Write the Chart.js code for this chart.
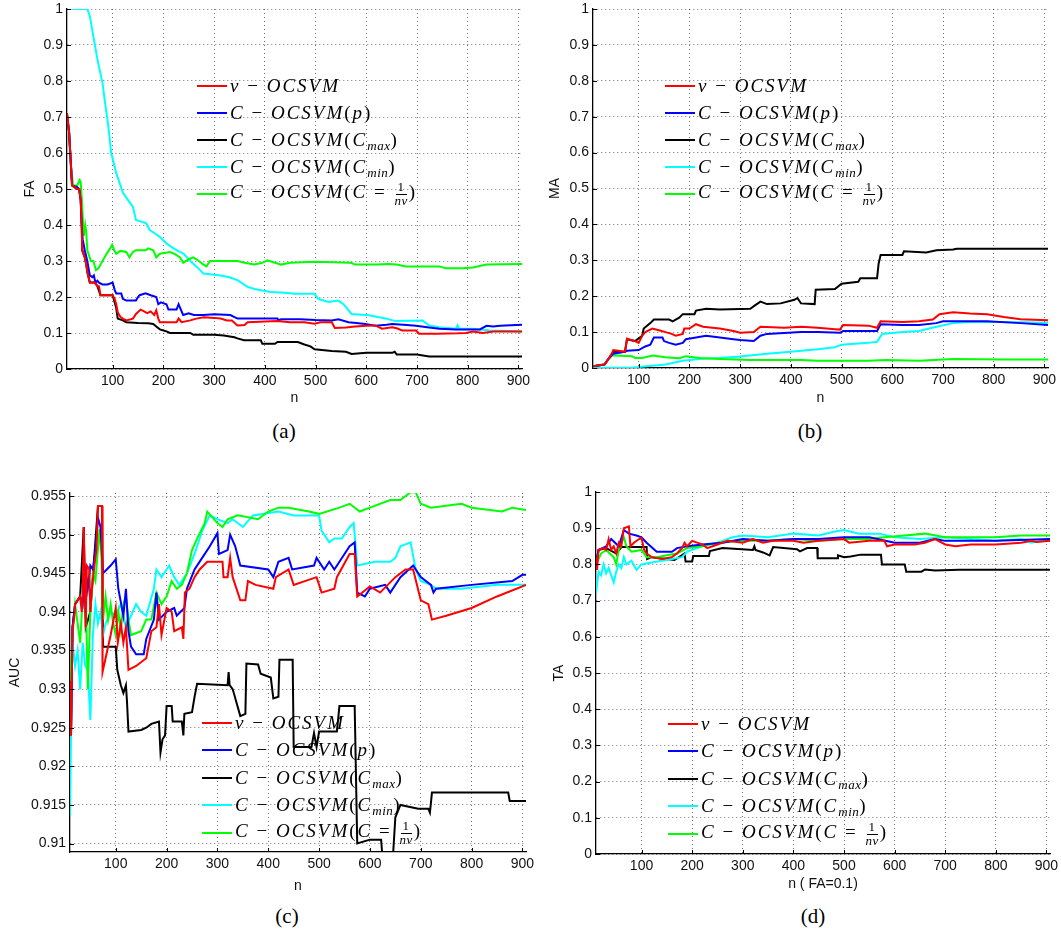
<!DOCTYPE html>
<html>
<head>
<meta charset="utf-8">
<script src="https://cdn.jsdelivr.net/npm/chart.js@4.4.0/dist/chart.umd.min.js"></script>
<style>
body { margin: 0; background: #fff; width: 1061px; height: 931px; position: relative; overflow: hidden; }
canvas { position: absolute; }
.leg { position: absolute; font-family: "Liberation Serif", serif; font-size: 19px; color: #000; }
.row { display: flex; align-items: center; white-space: nowrap; }
.sw { display: inline-block; width: 30px; height: 2px; margin-right: 3px; }
.m { font-style: italic; letter-spacing: 2px; }
.m .up { font-style: normal; }
.m sub { font-size: 13px; letter-spacing: 0.5px; vertical-align: -4px; line-height: 0; }
.frac { display: inline-flex; flex-direction: column; align-items: center; vertical-align: middle; font-size: 13px; line-height: 12px; margin: 0 1px; letter-spacing: 0.5px; }
.frac .num { font-style: normal; border-bottom: 1px solid #000; padding: 0 2px 1px 2px; }
.cap { position: absolute; font-family: "Liberation Serif", serif; font-size: 21px; transform: translate(-50%, -50%); }
</style>
</head>
<body>
<canvas id="chartFA" width="545" height="410" style="left:0;top:0"></canvas>
<canvas id="chartMA" width="531" height="410" style="left:530px;top:0"></canvas>
<canvas id="chartAUC" width="545" height="440" style="left:0;top:460px"></canvas>
<canvas id="chartTA" width="531" height="440" style="left:530px;top:460px"></canvas>
<div class="leg" id="legFA" style="left:197px;top:72px"></div>
<div class="leg" id="legMA" style="left:665px;top:72px"></div>
<div class="leg" id="legAUC" style="left:202px;top:709px"></div>
<div class="leg" id="legTA" style="left:668px;top:710px"></div>
<div class="cap" style="left:284px;top:431px">(a)</div>
<div class="cap" style="left:810px;top:431px">(b)</div>
<div class="cap" style="left:287px;top:916px">(c)</div>
<div class="cap" style="left:813px;top:916px">(d)</div>
<script>
// tick values
const nTicks = [100, 200, 300, 400, 500, 600, 700, 800, 900]
const rateTicks = [0, 0.1, 0.2, 0.3, 0.4, 0.5, 0.6, 0.7, 0.8, 0.9, 1]
const aucTicks = [0.91, 0.915, 0.92, 0.925, 0.93, 0.935, 0.94, 0.945, 0.95, 0.955]

// legend entries (same for all four panels)
const seriesColors = ["#ff0000", "#0000ff", "#000000", "#00ffff", "#00ff00"]
const seriesNames = [
  'ν<span class="up"> − </span>OCSVM',
  'C<span class="up"> − </span>OCSVM<span class="up">(</span>p<span class="up">)</span>',
  'C<span class="up"> − </span>OCSVM<span class="up">(</span>C<sub>max</sub><span class="up">)</span>',
  'C<span class="up"> − </span>OCSVM<span class="up">(</span>C<sub>min</sub><span class="up">)</span>',
  'C<span class="up"> − </span>OCSVM<span class="up">(</span>C<span class="up"> = </span><span class="frac"><span class="num">1</span><span>nν</span></span><span class="up">)</span>'
]

// (a) FA vs n
const faNu = [[10,0.71],[14,0.66],[18,0.56],[20,0.51],[30,0.50],[34,0.50],[37,0.47],[39,0.40],[40,0.33],[45,0.31],[48,0.29],[50,0.27],[55,0.24],[65,0.24],[70,0.23],[73,0.23],[76,0.205],[100,0.205],[104,0.195],[107,0.18],[110,0.158],[115,0.145],[120,0.14],[127,0.135],[140,0.14],[146,0.153],[155,0.165],[162,0.16],[168,0.155],[175,0.16],[182,0.15],[186,0.163],[190,0.14],[193,0.13],[226,0.13],[230,0.14],[236,0.13],[253,0.135],[265,0.14],[280,0.144],[300,0.142],[313,0.14],[325,0.135],[335,0.135],[346,0.121],[360,0.122],[366,0.13],[400,0.132],[425,0.133],[450,0.13],[478,0.13],[498,0.126],[510,0.13],[532,0.13],[538,0.114],[560,0.115],[578,0.118],[600,0.12],[618,0.121],[631,0.112],[651,0.116],[660,0.113],[671,0.107],[698,0.107],[704,0.098],[740,0.098],[780,0.099],[797,0.1],[810,0.104],[830,0.1],[850,0.104],[907,0.104]]
const faP = [[10,0.70],[14,0.66],[18,0.56],[20,0.51],[30,0.505],[34,0.50],[37,0.47],[39,0.40],[41,0.36],[45,0.33],[50,0.30],[55,0.26],[60,0.255],[63,0.26],[66,0.24],[70,0.245],[73,0.24],[80,0.235],[90,0.235],[100,0.24],[104,0.22],[107,0.21],[117,0.21],[120,0.195],[127,0.19],[146,0.19],[150,0.2],[153,0.205],[165,0.21],[175,0.205],[186,0.2],[190,0.18],[195,0.185],[206,0.18],[210,0.165],[226,0.165],[230,0.18],[233,0.17],[239,0.15],[250,0.155],[260,0.15],[279,0.15],[300,0.152],[332,0.15],[346,0.14],[380,0.14],[425,0.14],[427,0.135],[432,0.138],[470,0.138],[500,0.136],[532,0.135],[545,0.138],[565,0.13],[580,0.128],[598,0.125],[618,0.12],[640,0.123],[651,0.125],[680,0.122],[698,0.12],[724,0.115],[744,0.112],[777,0.11],[824,0.11],[837,0.12],[850,0.118],[864,0.12],[907,0.123]]
const faCmax = [[10,0.71],[14,0.66],[18,0.56],[20,0.51],[30,0.50],[34,0.50],[37,0.47],[39,0.40],[40,0.33],[45,0.31],[48,0.29],[50,0.27],[55,0.24],[65,0.24],[70,0.23],[76,0.205],[100,0.205],[104,0.185],[107,0.17],[110,0.14],[120,0.135],[127,0.13],[150,0.128],[170,0.127],[180,0.125],[186,0.118],[193,0.11],[205,0.105],[213,0.1],[253,0.1],[259,0.095],[300,0.095],[319,0.093],[340,0.088],[346,0.085],[359,0.08],[392,0.08],[395,0.07],[420,0.07],[425,0.075],[465,0.075],[478,0.068],[490,0.063],[498,0.055],[532,0.05],[560,0.048],[571,0.042],[600,0.045],[651,0.045],[656,0.048],[660,0.04],[700,0.04],[724,0.035],[907,0.035]]
const faCmin = [[10,1],[50,1],[55,0.98],[60,0.94],[65,0.9],[70,0.86],[73,0.84],[80,0.795],[85,0.74],[90,0.69],[93,0.656],[97,0.6],[100,0.585],[107,0.544],[113,0.52],[120,0.49],[130,0.47],[140,0.45],[146,0.414],[155,0.41],[166,0.405],[173,0.386],[185,0.375],[193,0.367],[206,0.349],[215,0.34],[226,0.33],[240,0.32],[253,0.30],[265,0.285],[279,0.265],[313,0.26],[330,0.255],[346,0.247],[366,0.228],[380,0.222],[392,0.219],[412,0.214],[440,0.212],[459,0.209],[498,0.209],[505,0.195],[525,0.186],[545,0.19],[555,0.18],[571,0.153],[605,0.149],[638,0.14],[658,0.133],[711,0.135],[724,0.121],[744,0.116],[777,0.112],[780,0.121],[783,0.112],[810,0.112],[844,0.107],[870,0.106],[907,0.104]]
const faInv = [[10,0.70],[14,0.66],[18,0.56],[22,0.51],[30,0.51],[35,0.525],[37,0.52],[40,0.45],[43,0.37],[46,0.40],[48,0.38],[50,0.33],[57,0.30],[62,0.30],[67,0.275],[72,0.28],[80,0.30],[88,0.32],[93,0.33],[99,0.345],[103,0.33],[107,0.32],[115,0.328],[127,0.325],[133,0.31],[140,0.325],[146,0.33],[165,0.33],[170,0.335],[180,0.33],[186,0.31],[193,0.32],[213,0.325],[222,0.32],[233,0.31],[239,0.295],[250,0.305],[259,0.31],[270,0.3],[279,0.29],[285,0.285],[292,0.3],[346,0.3],[360,0.295],[379,0.29],[395,0.295],[405,0.302],[420,0.295],[432,0.29],[450,0.295],[500,0.298],[570,0.295],[578,0.29],[620,0.29],[644,0.292],[660,0.29],[678,0.285],[744,0.285],[757,0.28],[790,0.28],[810,0.282],[837,0.29],[907,0.292]]

// (b) MA vs n
const maNu = [[10,0.005],[20,0.007],[33,0.01],[40,0.025],[47,0.04],[50,0.05],[60,0.048],[73,0.045],[77,0.082],[85,0.078],[93,0.075],[100,0.07],[107,0.09],[113,0.1],[120,0.105],[127,0.11],[140,0.105],[153,0.1],[165,0.095],[173,0.09],[187,0.095],[190,0.11],[200,0.11],[213,0.122],[227,0.115],[260,0.11],[287,0.103],[300,0.098],[327,0.1],[340,0.115],[387,0.112],[420,0.115],[453,0.112],[487,0.108],[497,0.107],[503,0.12],[553,0.118],[570,0.112],[577,0.13],[620,0.128],[653,0.13],[680,0.135],[693,0.15],[720,0.155],[753,0.152],[787,0.15],[820,0.142],[853,0.136],[907,0.133]]
const maP = [[10,0.005],[20,0.007],[33,0.01],[40,0.025],[50,0.04],[73,0.045],[77,0.048],[100,0.05],[113,0.06],[123,0.065],[130,0.085],[147,0.085],[150,0.075],[160,0.07],[173,0.065],[187,0.07],[193,0.08],[213,0.085],[233,0.09],[260,0.085],[287,0.08],[300,0.078],[327,0.075],[340,0.09],[353,0.095],[420,0.1],[453,0.1],[497,0.098],[503,0.103],[570,0.103],[577,0.122],[620,0.12],[653,0.12],[687,0.125],[700,0.13],[787,0.13],[853,0.125],[907,0.12]]
const maCmax = [[10,0.005],[20,0.007],[33,0.01],[43,0.03],[50,0.045],[73,0.045],[77,0.08],[93,0.075],[107,0.09],[110,0.11],[123,0.125],[130,0.135],[160,0.135],[167,0.13],[180,0.14],[187,0.15],[210,0.15],[213,0.16],[233,0.165],[260,0.163],[320,0.165],[330,0.175],[340,0.185],[353,0.178],[380,0.18],[407,0.19],[413,0.195],[420,0.18],[447,0.178],[449,0.218],[487,0.22],[500,0.235],[533,0.24],[537,0.25],[570,0.25],[573,0.29],[577,0.315],[620,0.315],[623,0.325],[667,0.322],[687,0.328],[720,0.33],[727,0.332],[907,0.332]]
const maCmin = [[10,0.001],[87,0.001],[100,0.003],[153,0.01],[187,0.02],[220,0.025],[260,0.028],[300,0.032],[353,0.04],[400,0.045],[453,0.052],[487,0.058],[500,0.065],[553,0.07],[570,0.073],[580,0.095],[620,0.1],[653,0.103],[687,0.115],[720,0.125],[753,0.128],[820,0.128],[907,0.126]]
const maInv = [[10,0.005],[20,0.007],[33,0.01],[47,0.035],[53,0.035],[87,0.033],[93,0.028],[107,0.028],[127,0.035],[153,0.03],[180,0.027],[193,0.033],[220,0.028],[260,0.025],[320,0.022],[420,0.022],[453,0.02],[553,0.02],[587,0.022],[653,0.02],[720,0.025],[820,0.024],[907,0.024]]

// (c) AUC vs n
const aucNu = [[10,0.931],[12,0.924],[15,0.938],[18,0.939],[20,0.941],[25,0.9415],[30,0.942],[33,0.94],[35,0.942],[37,0.951],[39,0.944],[41,0.938],[43,0.946],[48,0.9455],[50,0.94],[53,0.943],[58,0.946],[62,0.948],[65,0.9537],[73,0.9537],[74,0.9322],[80,0.934],[90,0.937],[100,0.9405],[104,0.936],[110,0.9385],[115,0.936],[120,0.938],[125,0.9325],[140,0.933],[160,0.934],[170,0.9375],[180,0.938],[185,0.941],[190,0.937],[200,0.9405],[210,0.940],[215,0.9375],[230,0.938],[233,0.9365],[236,0.9425],[245,0.943],[255,0.9445],[265,0.9455],[280,0.9465],[310,0.9465],[312,0.9445],[320,0.9445],[325,0.947],[330,0.9445],[345,0.9415],[355,0.9415],[360,0.944],[375,0.9435],[410,0.943],[415,0.9445],[440,0.9455],[450,0.9435],[495,0.9445],[505,0.9425],[530,0.943],[535,0.9445],[560,0.9475],[570,0.9475],[575,0.942],[600,0.9433],[620,0.9425],[650,0.9445],[670,0.9455],[685,0.9455],[700,0.9415],[715,0.941],[722,0.939],[750,0.9395],[800,0.9405],[850,0.942],[907,0.9435]]
const aucP = [[10,0.931],[12,0.924],[15,0.938],[20,0.941],[30,0.942],[35,0.941],[40,0.946],[45,0.943],[50,0.946],[55,0.9455],[60,0.948],[65,0.9522],[70,0.951],[75,0.945],[90,0.946],[100,0.9468],[105,0.943],[115,0.9395],[120,0.943],[125,0.9375],[130,0.9355],[140,0.9345],[155,0.9345],[160,0.9365],[175,0.939],[180,0.9425],[185,0.939],[200,0.940],[215,0.9405],[220,0.9395],[235,0.9405],[240,0.943],[255,0.9455],[270,0.947],[285,0.9485],[300,0.9502],[303,0.9475],[320,0.948],[325,0.95],[335,0.9485],[345,0.946],[400,0.9455],[410,0.9445],[420,0.9465],[440,0.947],[447,0.9455],[490,0.946],[495,0.947],[510,0.9455],[520,0.9465],[530,0.9455],[540,0.9465],[560,0.9485],[570,0.949],[575,0.9425],[590,0.942],[600,0.943],[630,0.9435],[640,0.9425],[660,0.9445],[685,0.946],[700,0.9445],[720,0.9435],[725,0.9425],[730,0.943],[800,0.9435],[880,0.944],[900,0.9448],[907,0.9448]]
const aucCmax = [[10,0.931],[12,0.924],[15,0.938],[20,0.941],[30,0.942],[37,0.951],[41,0.938],[50,0.94],[65,0.9537],[73,0.9537],[75,0.9355],[100,0.9355],[103,0.9325],[110,0.9305],[115,0.9295],[120,0.9305],[122,0.9285],[125,0.9245],[150,0.9247],[160,0.925],[170,0.9255],[185,0.9258],[188,0.9218],[192,0.9235],[197,0.924],[200,0.9278],[210,0.9278],[212,0.9258],[230,0.9258],[233,0.924],[235,0.9268],[250,0.927],[255,0.929],[260,0.9307],[320,0.9305],[322,0.9322],[324,0.9305],[330,0.93],[345,0.9265],[355,0.9268],[357,0.9333],[380,0.9332],[385,0.932],[405,0.9315],[410,0.9288],[420,0.929],[422,0.9338],[448,0.9338],[450,0.9225],[485,0.9225],[490,0.9243],[495,0.9225],[500,0.9245],[535,0.9245],[540,0.9278],[570,0.9278],[575,0.91],[600,0.9105],[622,0.9105],[625,0.908],[645,0.908],[650,0.9134],[660,0.915],[695,0.9145],[715,0.9145],[718,0.914],[722,0.9166],[872,0.9166],[875,0.9155],[907,0.9155]]
const aucCmin = [[10,0.9135],[13,0.93],[15,0.936],[20,0.933],[25,0.935],[30,0.930],[35,0.936],[40,0.933],[45,0.9325],[50,0.926],[55,0.937],[60,0.941],[65,0.9385],[70,0.94],[75,0.937],[80,0.9385],[90,0.940],[100,0.9395],[110,0.941],[120,0.938],[130,0.9395],[140,0.941],[150,0.940],[160,0.9395],[175,0.943],[180,0.9455],[190,0.9445],[200,0.9455],[205,0.946],[215,0.9445],[225,0.9435],[240,0.945],[255,0.9475],[270,0.9505],[285,0.9525],[300,0.952],[320,0.9515],[330,0.952],[350,0.951],[370,0.9525],[420,0.953],[450,0.9525],[500,0.9525],[505,0.9505],[520,0.949],[530,0.9495],[545,0.9495],[560,0.951],[568,0.9515],[575,0.946],[610,0.9465],[640,0.9465],[650,0.947],[660,0.9485],[680,0.949],[690,0.9455],[700,0.944],[720,0.9435],[730,0.943],[780,0.943],[850,0.9435],[907,0.9435]]
const aucInv = [[10,0.931],[15,0.937],[20,0.941],[30,0.936],[35,0.942],[40,0.945],[45,0.93],[50,0.94],[55,0.945],[60,0.944],[68,0.9507],[72,0.947],[75,0.939],[80,0.942],[85,0.939],[90,0.941],[95,0.9385],[100,0.937],[105,0.940],[110,0.9375],[115,0.941],[120,0.942],[125,0.939],[130,0.937],[150,0.9375],[160,0.939],[170,0.939],[180,0.9425],[190,0.941],[200,0.942],[210,0.944],[220,0.943],[230,0.9435],[240,0.945],[250,0.948],[260,0.9495],[275,0.9515],[280,0.953],[300,0.9515],[310,0.951],[320,0.952],[340,0.9525],[380,0.952],[400,0.953],[420,0.9535],[440,0.9535],[480,0.953],[500,0.9527],[540,0.9535],[560,0.954],[580,0.953],[600,0.9535],[640,0.9545],[660,0.9545],[680,0.9555],[690,0.9555],[700,0.954],[720,0.9535],[780,0.954],[800,0.9535],[860,0.953],[880,0.9535],[907,0.9532]]

// (d) TA vs n at FA=0.1
const taNu = [[10,0.82],[12,0.785],[15,0.84],[25,0.845],[30,0.84],[35,0.87],[40,0.84],[45,0.85],[50,0.83],[55,0.86],[60,0.85],[65,0.9],[75,0.905],[78,0.85],[85,0.86],[95,0.87],[100,0.873],[105,0.84],[110,0.83],[120,0.82],[140,0.815],[160,0.82],[170,0.83],[180,0.845],[185,0.86],[190,0.85],[200,0.865],[210,0.86],[220,0.855],[230,0.845],[250,0.855],[270,0.865],[300,0.86],[320,0.87],[340,0.86],[360,0.865],[400,0.865],[420,0.86],[450,0.865],[500,0.87],[510,0.86],[550,0.865],[580,0.865],[585,0.85],[600,0.855],[640,0.855],[660,0.86],[680,0.87],[700,0.855],[720,0.85],[750,0.855],[800,0.855],[850,0.86],[870,0.865],[880,0.862],[907,0.865]]
const taP = [[10,0.8],[15,0.84],[30,0.85],[40,0.87],[55,0.85],[65,0.895],[75,0.885],[90,0.88],[100,0.875],[110,0.86],[130,0.835],[160,0.835],[170,0.845],[190,0.85],[220,0.855],[260,0.86],[300,0.87],[350,0.865],[400,0.87],[450,0.87],[500,0.875],[550,0.875],[600,0.86],[650,0.86],[680,0.87],[700,0.865],[800,0.865],[907,0.87]]
const taCmax = [[10,0.8],[15,0.84],[30,0.845],[50,0.83],[60,0.848],[110,0.848],[111,0.815],[120,0.82],[165,0.812],[185,0.83],[187,0.808],[200,0.808],[202,0.823],[233,0.823],[235,0.837],[260,0.845],[320,0.84],[323,0.85],[325,0.84],[340,0.833],[353,0.825],[360,0.848],[407,0.842],[413,0.836],[427,0.845],[447,0.845],[448,0.817],[487,0.817],[488,0.825],[500,0.82],[513,0.822],[533,0.827],[573,0.827],[575,0.8],[620,0.8],[623,0.78],[653,0.78],[660,0.786],[680,0.783],[727,0.785],[907,0.785]]
const taCmin = [[10,0.72],[15,0.78],[20,0.77],[25,0.8],[30,0.775],[35,0.79],[40,0.77],[45,0.75],[50,0.78],[55,0.8],[60,0.79],[65,0.82],[70,0.8],[80,0.81],[90,0.785],[100,0.8],[120,0.805],[140,0.81],[160,0.815],[180,0.82],[190,0.835],[200,0.84],[220,0.85],[250,0.86],[280,0.875],[300,0.88],[350,0.875],[400,0.885],[450,0.88],[480,0.89],[500,0.895],[530,0.885],[570,0.885],[600,0.875],[650,0.87],[700,0.875],[750,0.87],[800,0.865],[850,0.87],[870,0.86],[907,0.87]]
const taInv = [[10,0.8],[20,0.83],[30,0.84],[45,0.82],[50,0.8],[55,0.84],[65,0.875],[70,0.85],[80,0.835],[100,0.84],[110,0.82],[130,0.82],[150,0.825],[170,0.83],[190,0.845],[220,0.85],[250,0.86],[300,0.865],[350,0.865],[400,0.87],[450,0.865],[500,0.87],[550,0.87],[580,0.875],[620,0.88],[660,0.885],[700,0.875],[800,0.875],[850,0.88],[907,0.88]]

const tickFont = { family: "'Liberation Sans', Arial, sans-serif", size: 14 }
const fmt = v => String(+(+v).toFixed(3))

// red drawn on top, black at the bottom (first dataset is drawn last)
const makeSets = (nu, p, cmax, cmin, inv) => {
  const order = [[nu, 0], [p, 1], [inv, 4], [cmin, 3], [cmax, 2]]
  return order.map(([pts, c]) => ({
    data: pts.map(d => ({ x: d[0], y: d[1] })),
    borderColor: seriesColors[c],
    borderWidth: 2,
    pointRadius: 0,
    tension: 0,
    fill: false
  }))
}

// short inward tick marks, matlab style
const innerTicks = {
  id: "innerTicks",
  afterDraw: chart => {
    const { ctx, chartArea: a, scales } = chart
    ctx.save()
    ctx.strokeStyle = "#000"
    ctx.lineWidth = 1
    ctx.beginPath()
    scales.x.ticks.forEach(t => {
      const px = Math.round(scales.x.getPixelForValue(t.value)) + 0.5
      ctx.moveTo(px, a.bottom)
      ctx.lineTo(px, a.bottom - 4)
    })
    scales.y.ticks.forEach(t => {
      const py = Math.round(scales.y.getPixelForValue(t.value)) + 0.5
      ctx.moveTo(a.left, py)
      ctx.lineTo(a.left + 4, py)
    })
    ctx.stroke()
    ctx.restore()
  }
}

/**
 g: chart-area geometry in canvas pixels
*/
const makePanel = (id, sets, yMin, yMax, yTicks, yTitle, xTitle, g) => {
  new Chart(id, {
    type: "line",
    data: { datasets: sets },
    plugins: [innerTicks],
    options: {
      responsive: false,
      animation: false,
      devicePixelRatio: 1,
      layout: { padding: { top: g.top, right: g.right, left: 0, bottom: 0 } },
      plugins: { legend: { display: false }, tooltip: { enabled: false } },
      scales: {
        x: {
          type: "linear", min: 10, max: 907,
          afterBuildTicks: s => { s.ticks = nTicks.map(v => ({ value: v })) },
          afterFit: s => { s.height = g.xh; s.paddingLeft = 0; s.paddingRight = 0 },
          ticks: { font: tickFont, color: "#111", padding: 4, maxRotation: 0, autoSkip: false, callback: fmt },
          grid: { color: "rgba(0,0,0,0.55)", lineWidth: 1, drawTicks: false },
          border: { display: true, color: "#000", width: 1.3, dash: [1, 3] },
          title: { display: true, text: xTitle, font: tickFont, color: "#111", padding: { top: 0, bottom: g.xtp } }
        },
        y: {
          type: "linear", min: yMin, max: yMax,
          afterBuildTicks: s => { s.ticks = yTicks.map(v => ({ value: v })) },
          afterFit: s => { s.width = g.yw; s.paddingTop = 0; s.paddingBottom = 0 },
          ticks: { font: tickFont, color: "#111", padding: 4, autoSkip: false, callback: fmt },
          grid: { color: "rgba(0,0,0,0.55)", lineWidth: 1, drawTicks: false },
          border: { display: true, color: "#000", width: 1.3, dash: [1, 3] },
          title: { display: true, text: yTitle, font: tickFont, color: "#111", padding: { top: g.ytp, bottom: 0 } }
        }
      }
    }
  })
}

makePanel("chartFA", makeSets(faNu, faP, faCmax, faCmin, faInv), 0, 1, rateTicks, "FA", "n",
  { top: 9, right: 23, yw: 67, xh: 41, ytp: 21.6, xtp: 3.6 })
makePanel("chartMA", makeSets(maNu, maP, maCmax, maCmin, maInv), 0, 1, rateTicks, "MA", "n",
  { top: 9, right: 13, yw: 63, xh: 42, ytp: 16.6, xtp: 3.6 })
makePanel("chartAUC", makeSets(aucNu, aucP, aucCmax, aucCmin, aucInv), 0.9089, 0.9554, aucTicks, "AUC", "n",
  { top: 33, right: 19, yw: 70, xh: 48, ytp: 6.6, xtp: 5.6 })
makePanel("chartTA", makeSets(taNu, taP, taCmax, taCmin, taInv), 0, 1, rateTicks, "TA", "n ( FA=0.1)",
  { top: 32, right: 11, yw: 66, xh: 46, ytp: 20.6, xtp: 7.6 })

// legends
const fillLegend = (id, rowH) => {
  const el = document.getElementById(id)
  el.innerHTML = seriesNames.map((txt, i) =>
    '<div class="row" style="height:' + rowH + 'px"><span class="sw" style="background:' + seriesColors[i] +
    '"></span><span class="m">' + txt + '</span></div>').join("")
}
fillLegend("legFA", 27)
fillLegend("legMA", 27)
fillLegend("legAUC", 27.5)
fillLegend("legTA", 27.5)
</script>
</body>
</html>
